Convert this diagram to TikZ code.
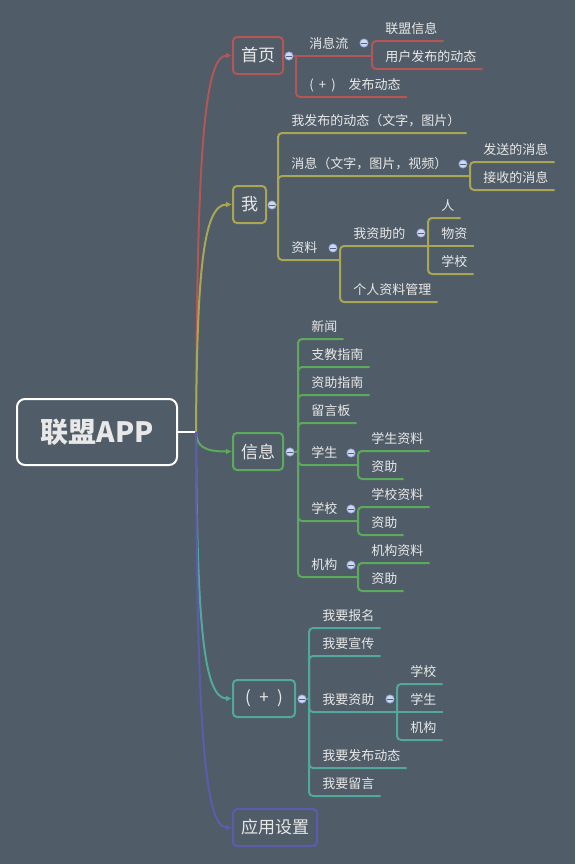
\documentclass[tikz,border=0pt]{standalone}
\usepackage{fontspec}
\setmainfont{Noto Sans CJK SC}
\usetikzlibrary{positioning,arrows.meta}
\definecolor{bg}{RGB}{80,92,104}
\definecolor{txt}{RGB}{232,232,232}
\definecolor{cHome}{RGB}{178,86,86}
\definecolor{cMe}{RGB}{170,166,82}
\definecolor{cInfo}{RGB}{92,170,92}
\definecolor{cPlus}{RGB}{82,168,154}
\definecolor{cSet}{RGB}{92,92,172}
\definecolor{foldfill}{RGB}{205,216,242}
\definecolor{foldline}{RGB}{150,166,210}
\definecolor{foldmark}{RGB}{80,96,136}

\begin{document}
\begin{tikzpicture}[x=0.75pt, y=-0.75pt, >={Latex[length=4.5pt,width=4.5pt]},
    topic/.style={draw, rounded corners=3pt, line width=1.5pt, anchor=west,
      minimum height=27.75pt, inner xsep=6pt, inner ysep=0pt, text=txt,
      font=\fontsize{12.75}{15}\selectfont},
    leaf/.style={anchor=south west, inner xsep=4.5pt, inner ysep=3pt,
      text height=9pt, text depth=2.2pt, text=txt, font=\fontsize{9.75}{12}\selectfont},
    foldbtn/.style={circle, draw=foldline, fill=foldfill, line width=0.5pt,
      minimum size=6.2pt, inner sep=0pt,
      path picture={\draw[foldmark, line width=0.6pt]
        ([xshift=-1.9pt]path picture bounding box.center) -- ([xshift=1.9pt]path picture bounding box.center);}},
    link/.style={line width=1.5pt, rounded corners=3pt},
    branch/.style={line width=1.5pt, ->}]
  \fill[bg] (0,0) rectangle (575,864);

  % root and main topics
  \node[draw=white, line width=1.5pt, rounded corners=6pt, minimum width=120pt,
    minimum height=49.5pt, text=txt, font=\fontsize{21}{25}\selectfont\bfseries] (app) at (97,432) {联盟APP};
  \coordinate (hub) at (196,432);
  \draw[white, line width=1.5pt] (app.east) -- (hub);

  \node[topic, draw=cHome] (home) at (232,55.5) {首页};
  \node[topic, draw=cMe] (me) at (232,204.5) {我};
  \node[topic, draw=cInfo] (info) at (232,451.5) {信息};
  \node[topic, draw=cPlus, minimum width=46.5pt] (plus) at (232,698.5) {(\enspace+\enspace)};
  \node[topic, draw=cSet] (set) at (232,827.5) {应用设置};

  \draw[branch, cHome] (hub) .. controls (197,168) and (203,55.5) .. (home.west);
  \draw[branch, cMe] (hub) .. controls (197,273) and (203,204.5) .. (me.west);
  \draw[branch, cInfo] (hub) .. controls (197,446) and (203,451.5) .. (info.west);
  \draw[branch, cPlus] (hub) .. controls (197,618.5) and (203,698.5) .. (plus.west);
  \draw[branch, cSet] (hub) .. controls (197,709) and (203,827.5) .. (set.west);

  % 首页
  \node[foldbtn] (home-f) at (289,56) {};
  \coordinate (home-j) at (296,55.5);
  \draw[link, cHome] (home-f.east) -- (home-j);
  \node[leaf] (msgflow) at (303,55.5) {消息流};
  \node[foldbtn] (msgflow-f) at (364,43) {};
  \coordinate (msgflow-j) at (372,55.5);
  \draw[link, cHome] (home-j) -- (msgflow-j);
  \node[leaf] (post) at (303,97) {(\hspace{0.4em}+\hspace{0.4em})　发布动态};
  \draw[link, cHome] (home-j) |- (post.south east);
  \foreach \n/\y/\t in {league/41/联盟信息, userpost/69/用户发布的动态} {
    \node[leaf] (\n) at (379,\y) {\t};
    \draw[link, cHome] (msgflow-j) |- (\n.south east);
  }

  % 我
  \node[foldbtn] (me-f) at (272,205) {};
  \coordinate (me-j) at (278,204.5);
  \draw[link, cMe] (me-f.east) -- (me-j);
  \node[leaf] (mypost) at (285,133) {我发布的动态（文字，图片）};
  \draw[link, cMe] (me-j) |- (mypost.south east);
  \node[leaf] (msg) at (285,176) {消息（文字，图片，视频）};
  \node[foldbtn] (msg-f) at (463,164) {};
  \coordinate (msg-j) at (470,176);
  \draw[link, cMe] (me-j) |- (msg-j);
  \foreach \n/\y/\t in {sent/162/发送的消息, recv/190/接收的消息} {
    \node[leaf] (\n) at (477,\y) {\t};
    \draw[link, cMe] (msg-j) |- (\n.south east);
  }
  \node[leaf] (data) at (285,260) {资料};
  \node[foldbtn] (data-f) at (333,248) {};
  \coordinate (data-j) at (340,260);
  \draw[link, cMe] (me-j) |- (data-j);
  \node[leaf] (aided) at (347,246) {我资助的};
  \node[foldbtn] (aided-f) at (421,233) {};
  \coordinate (aided-j) at (428,246);
  \draw[link, cMe] (data-j) |- (aided-j);
  \node[leaf] (profile) at (347,302) {个人资料管理};
  \draw[link, cMe] (data-j) |- (profile.south east);
  \node[leaf] (person) at (435,218) {人};
  \node[leaf] (goods) at (435,246) {物资};
  \node[leaf] (school) at (435,274) {学校};
  \draw[link, cMe] (aided-j) |- (person.south east);
  \draw[link, cMe] (aided-j) -- (goods.south east);
  \draw[link, cMe] (aided-j) |- (school.south east);

  % 信息
  \node[foldbtn] (info-f) at (290,452) {};
  \coordinate (info-j) at (298,451.5);
  \draw[link, cInfo] (info-f.east) -- (info-j);
  \foreach \n/\y/\t in {news/339/新闻, teach/367/支教指南, aidguide/395/资助指南, board/423/留言板} {
    \node[leaf] (\n) at (305,\y) {\t};
    \draw[link, cInfo] (info-j) |- (\n.south east);
  }
  \foreach \n/\y/\t/\u in {stu/465/学生/学生资料, sch/521/学校/学校资料, org/577/机构/机构资料} {
    \node[leaf] (\n) at (305,\y) {\t};
    \node[foldbtn] (\n-f) at (351,\y-12) {};
    \coordinate (\n-j) at (358,\y);
    \draw[link, cInfo] (info-j) |- (\n-j);
    \node[leaf] (\n-a) at (365,\y-14) {\u};
    \node[leaf] (\n-b) at (365,\y+14) {资助};
    \draw[link, cInfo] (\n-j) |- (\n-a.south east);
    \draw[link, cInfo] (\n-j) |- (\n-b.south east);
  }

  % ( + )
  \node[foldbtn] (plus-f) at (302,699) {};
  \coordinate (plus-j) at (309,698.5);
  \draw[link, cPlus] (plus-f.east) -- (plus-j);
  \foreach \n/\y/\t in {signup/628/我要报名, promo/656/我要宣传, dpost/768/我要发布动态, leave/796/我要留言} {
    \node[leaf] (\n) at (316,\y) {\t};
    \draw[link, cPlus] (plus-j) |- (\n.south east);
  }
  \node[leaf] (donate) at (316,712) {我要资助};
  \node[foldbtn] (donate-f) at (390,699) {};
  \coordinate (donate-j) at (397,712);
  \draw[link, cPlus] (plus-j) |- (donate-j);
  \node[leaf] (dschool) at (404,684) {学校};
  \node[leaf] (dstu) at (404,712) {学生};
  \node[leaf] (dorg) at (404,740) {机构};
  \draw[link, cPlus] (donate-j) |- (dschool.south east);
  \draw[link, cPlus] (donate-j) -- (dstu.south east);
  \draw[link, cPlus] (donate-j) |- (dorg.south east);
\end{tikzpicture}
\end{document}
